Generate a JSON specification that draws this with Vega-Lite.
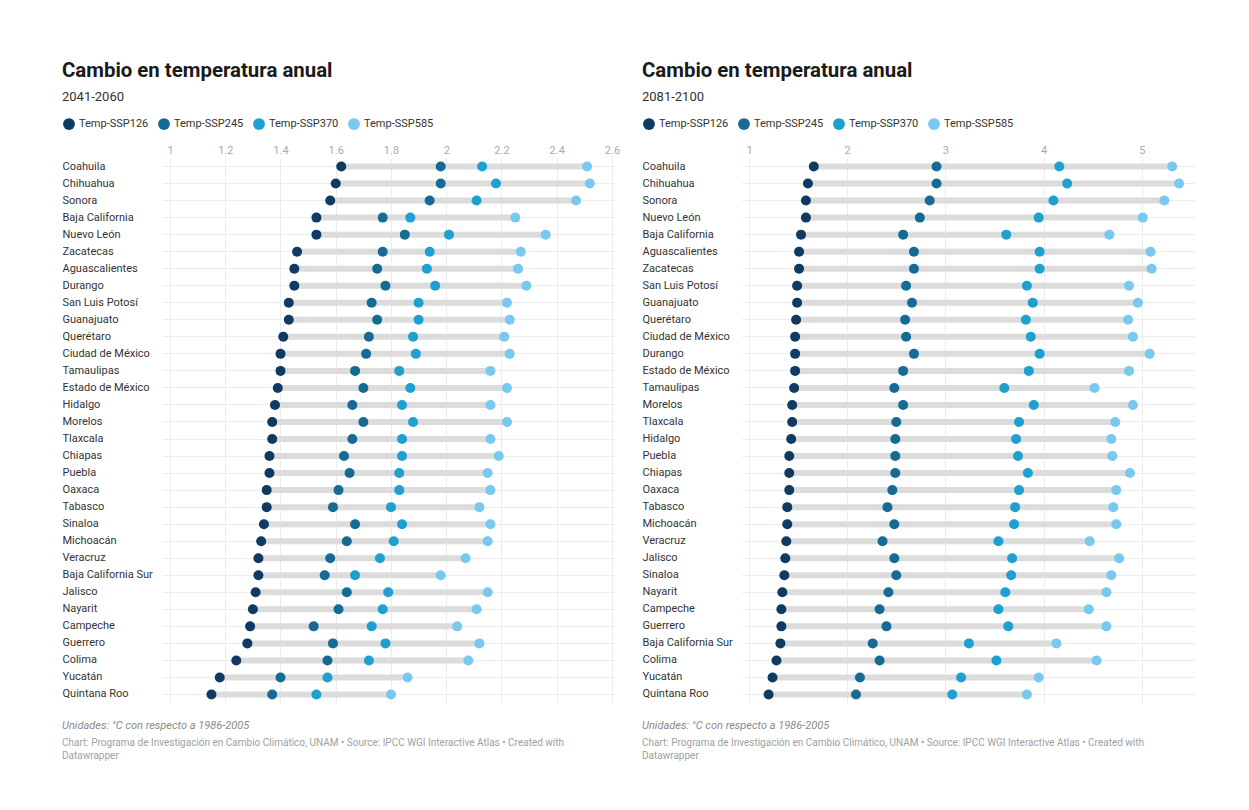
{
  "$schema": "https://vega.github.io/schema/vega-lite/v6.json",
  "background": "#ffffff",
  "padding": {"left": 62, "top": 60, "right": 0, "bottom": 0},
  "config": {
    "font": "Roboto",
    "view": {"stroke": null},
    "concat": {"spacing": 22}
  },
  "resolve": {"scale": {"color": "independent"}, "legend": {"color": "independent"}},
  "datasets": {
    "d1": [
      {"estado": "Coahuila", "Temp-SSP126": 1.62, "Temp-SSP245": 1.98, "Temp-SSP370": 2.13, "Temp-SSP585": 2.51},
      {"estado": "Chihuahua", "Temp-SSP126": 1.60, "Temp-SSP245": 1.98, "Temp-SSP370": 2.18, "Temp-SSP585": 2.52},
      {"estado": "Sonora", "Temp-SSP126": 1.58, "Temp-SSP245": 1.94, "Temp-SSP370": 2.11, "Temp-SSP585": 2.47},
      {"estado": "Baja California", "Temp-SSP126": 1.53, "Temp-SSP245": 1.77, "Temp-SSP370": 1.87, "Temp-SSP585": 2.25},
      {"estado": "Nuevo León", "Temp-SSP126": 1.53, "Temp-SSP245": 1.85, "Temp-SSP370": 2.01, "Temp-SSP585": 2.36},
      {"estado": "Zacatecas", "Temp-SSP126": 1.46, "Temp-SSP245": 1.77, "Temp-SSP370": 1.94, "Temp-SSP585": 2.27},
      {"estado": "Aguascalientes", "Temp-SSP126": 1.45, "Temp-SSP245": 1.75, "Temp-SSP370": 1.93, "Temp-SSP585": 2.26},
      {"estado": "Durango", "Temp-SSP126": 1.45, "Temp-SSP245": 1.78, "Temp-SSP370": 1.96, "Temp-SSP585": 2.29},
      {"estado": "San Luis Potosí", "Temp-SSP126": 1.43, "Temp-SSP245": 1.73, "Temp-SSP370": 1.90, "Temp-SSP585": 2.22},
      {"estado": "Guanajuato", "Temp-SSP126": 1.43, "Temp-SSP245": 1.75, "Temp-SSP370": 1.90, "Temp-SSP585": 2.23},
      {"estado": "Querétaro", "Temp-SSP126": 1.41, "Temp-SSP245": 1.72, "Temp-SSP370": 1.88, "Temp-SSP585": 2.21},
      {"estado": "Ciudad de México", "Temp-SSP126": 1.40, "Temp-SSP245": 1.71, "Temp-SSP370": 1.89, "Temp-SSP585": 2.23},
      {"estado": "Tamaulipas", "Temp-SSP126": 1.40, "Temp-SSP245": 1.67, "Temp-SSP370": 1.83, "Temp-SSP585": 2.16},
      {"estado": "Estado de México", "Temp-SSP126": 1.39, "Temp-SSP245": 1.70, "Temp-SSP370": 1.87, "Temp-SSP585": 2.22},
      {"estado": "Hidalgo", "Temp-SSP126": 1.38, "Temp-SSP245": 1.66, "Temp-SSP370": 1.84, "Temp-SSP585": 2.16},
      {"estado": "Morelos", "Temp-SSP126": 1.37, "Temp-SSP245": 1.70, "Temp-SSP370": 1.88, "Temp-SSP585": 2.22},
      {"estado": "Tlaxcala", "Temp-SSP126": 1.37, "Temp-SSP245": 1.66, "Temp-SSP370": 1.84, "Temp-SSP585": 2.16},
      {"estado": "Chiapas", "Temp-SSP126": 1.36, "Temp-SSP245": 1.63, "Temp-SSP370": 1.84, "Temp-SSP585": 2.19},
      {"estado": "Puebla", "Temp-SSP126": 1.36, "Temp-SSP245": 1.65, "Temp-SSP370": 1.83, "Temp-SSP585": 2.15},
      {"estado": "Oaxaca", "Temp-SSP126": 1.35, "Temp-SSP245": 1.61, "Temp-SSP370": 1.83, "Temp-SSP585": 2.16},
      {"estado": "Tabasco", "Temp-SSP126": 1.35, "Temp-SSP245": 1.59, "Temp-SSP370": 1.80, "Temp-SSP585": 2.12},
      {"estado": "Sinaloa", "Temp-SSP126": 1.34, "Temp-SSP245": 1.67, "Temp-SSP370": 1.84, "Temp-SSP585": 2.16},
      {"estado": "Michoacán", "Temp-SSP126": 1.33, "Temp-SSP245": 1.64, "Temp-SSP370": 1.81, "Temp-SSP585": 2.15},
      {"estado": "Veracruz", "Temp-SSP126": 1.32, "Temp-SSP245": 1.58, "Temp-SSP370": 1.76, "Temp-SSP585": 2.07},
      {"estado": "Baja California Sur", "Temp-SSP126": 1.32, "Temp-SSP245": 1.56, "Temp-SSP370": 1.67, "Temp-SSP585": 1.98},
      {"estado": "Jalisco", "Temp-SSP126": 1.31, "Temp-SSP245": 1.64, "Temp-SSP370": 1.79, "Temp-SSP585": 2.15},
      {"estado": "Nayarit", "Temp-SSP126": 1.30, "Temp-SSP245": 1.61, "Temp-SSP370": 1.77, "Temp-SSP585": 2.11},
      {"estado": "Campeche", "Temp-SSP126": 1.29, "Temp-SSP245": 1.52, "Temp-SSP370": 1.73, "Temp-SSP585": 2.04},
      {"estado": "Guerrero", "Temp-SSP126": 1.28, "Temp-SSP245": 1.59, "Temp-SSP370": 1.78, "Temp-SSP585": 2.12},
      {"estado": "Colima", "Temp-SSP126": 1.24, "Temp-SSP245": 1.57, "Temp-SSP370": 1.72, "Temp-SSP585": 2.08},
      {"estado": "Yucatán", "Temp-SSP126": 1.18, "Temp-SSP245": 1.40, "Temp-SSP370": 1.57, "Temp-SSP585": 1.86},
      {"estado": "Quintana Roo", "Temp-SSP126": 1.15, "Temp-SSP245": 1.37, "Temp-SSP370": 1.53, "Temp-SSP585": 1.80}
    ],
    "d2": [
      {"estado": "Coahuila", "Temp-SSP126": 1.66, "Temp-SSP245": 2.91, "Temp-SSP370": 4.16, "Temp-SSP585": 5.31},
      {"estado": "Chihuahua", "Temp-SSP126": 1.60, "Temp-SSP245": 2.91, "Temp-SSP370": 4.24, "Temp-SSP585": 5.38},
      {"estado": "Sonora", "Temp-SSP126": 1.58, "Temp-SSP245": 2.84, "Temp-SSP370": 4.10, "Temp-SSP585": 5.23},
      {"estado": "Nuevo León", "Temp-SSP126": 1.58, "Temp-SSP245": 2.74, "Temp-SSP370": 3.95, "Temp-SSP585": 5.01},
      {"estado": "Baja California", "Temp-SSP126": 1.53, "Temp-SSP245": 2.57, "Temp-SSP370": 3.62, "Temp-SSP585": 4.67},
      {"estado": "Aguascalientes", "Temp-SSP126": 1.51, "Temp-SSP245": 2.68, "Temp-SSP370": 3.96, "Temp-SSP585": 5.09},
      {"estado": "Zacatecas", "Temp-SSP126": 1.51, "Temp-SSP245": 2.68, "Temp-SSP370": 3.96, "Temp-SSP585": 5.10},
      {"estado": "San Luis Potosí", "Temp-SSP126": 1.49, "Temp-SSP245": 2.60, "Temp-SSP370": 3.83, "Temp-SSP585": 4.87},
      {"estado": "Guanajuato", "Temp-SSP126": 1.49, "Temp-SSP245": 2.66, "Temp-SSP370": 3.89, "Temp-SSP585": 4.96},
      {"estado": "Querétaro", "Temp-SSP126": 1.48, "Temp-SSP245": 2.59, "Temp-SSP370": 3.82, "Temp-SSP585": 4.86},
      {"estado": "Ciudad de México", "Temp-SSP126": 1.47, "Temp-SSP245": 2.60, "Temp-SSP370": 3.87, "Temp-SSP585": 4.91},
      {"estado": "Durango", "Temp-SSP126": 1.47, "Temp-SSP245": 2.68, "Temp-SSP370": 3.96, "Temp-SSP585": 5.08},
      {"estado": "Estado de México", "Temp-SSP126": 1.47, "Temp-SSP245": 2.57, "Temp-SSP370": 3.85, "Temp-SSP585": 4.87},
      {"estado": "Tamaulipas", "Temp-SSP126": 1.46, "Temp-SSP245": 2.48, "Temp-SSP370": 3.60, "Temp-SSP585": 4.52},
      {"estado": "Morelos", "Temp-SSP126": 1.44, "Temp-SSP245": 2.57, "Temp-SSP370": 3.90, "Temp-SSP585": 4.91},
      {"estado": "Tlaxcala", "Temp-SSP126": 1.44, "Temp-SSP245": 2.50, "Temp-SSP370": 3.75, "Temp-SSP585": 4.73},
      {"estado": "Hidalgo", "Temp-SSP126": 1.43, "Temp-SSP245": 2.49, "Temp-SSP370": 3.72, "Temp-SSP585": 4.69},
      {"estado": "Puebla", "Temp-SSP126": 1.41, "Temp-SSP245": 2.49, "Temp-SSP370": 3.74, "Temp-SSP585": 4.70},
      {"estado": "Chiapas", "Temp-SSP126": 1.41, "Temp-SSP245": 2.49, "Temp-SSP370": 3.84, "Temp-SSP585": 4.88},
      {"estado": "Oaxaca", "Temp-SSP126": 1.41, "Temp-SSP245": 2.46, "Temp-SSP370": 3.75, "Temp-SSP585": 4.74},
      {"estado": "Tabasco", "Temp-SSP126": 1.39, "Temp-SSP245": 2.41, "Temp-SSP370": 3.71, "Temp-SSP585": 4.71},
      {"estado": "Michoacán", "Temp-SSP126": 1.39, "Temp-SSP245": 2.48, "Temp-SSP370": 3.70, "Temp-SSP585": 4.74},
      {"estado": "Veracruz", "Temp-SSP126": 1.38, "Temp-SSP245": 2.36, "Temp-SSP370": 3.54, "Temp-SSP585": 4.47},
      {"estado": "Jalisco", "Temp-SSP126": 1.37, "Temp-SSP245": 2.48, "Temp-SSP370": 3.68, "Temp-SSP585": 4.77},
      {"estado": "Sinaloa", "Temp-SSP126": 1.36, "Temp-SSP245": 2.50, "Temp-SSP370": 3.67, "Temp-SSP585": 4.69},
      {"estado": "Nayarit", "Temp-SSP126": 1.34, "Temp-SSP245": 2.42, "Temp-SSP370": 3.61, "Temp-SSP585": 4.64},
      {"estado": "Campeche", "Temp-SSP126": 1.33, "Temp-SSP245": 2.33, "Temp-SSP370": 3.54, "Temp-SSP585": 4.46},
      {"estado": "Guerrero", "Temp-SSP126": 1.33, "Temp-SSP245": 2.40, "Temp-SSP370": 3.64, "Temp-SSP585": 4.64},
      {"estado": "Baja California Sur", "Temp-SSP126": 1.32, "Temp-SSP245": 2.26, "Temp-SSP370": 3.24, "Temp-SSP585": 4.13},
      {"estado": "Colima", "Temp-SSP126": 1.28, "Temp-SSP245": 2.33, "Temp-SSP370": 3.52, "Temp-SSP585": 4.54},
      {"estado": "Yucatán", "Temp-SSP126": 1.24, "Temp-SSP245": 2.13, "Temp-SSP370": 3.16, "Temp-SSP585": 3.95},
      {"estado": "Quintana Roo", "Temp-SSP126": 1.20, "Temp-SSP245": 2.09, "Temp-SSP370": 3.07, "Temp-SSP585": 3.83}
    ]
  },
  "hconcat": [
    {
      "resolve": {"scale": {"color": "independent"}, "legend": {"color": "independent"}},
      "title": {
        "text": "Unidades: °C con respecto a 1986-2005",
        "subtitle": ["Chart: Programa de Investigación en Cambio Climático, UNAM • Source: IPCC WGI Interactive Atlas • Created with", "Datawrapper"],
        "orient": "bottom", "anchor": "start", "frame": "bounds",
        "fontSize": 11, "fontStyle": "italic", "fontWeight": "normal", "color": "#8a8a8a",
        "subtitleFontSize": 10, "subtitleColor": "#a0a0a0", "subtitleFontStyle": "normal", "subtitleLineHeight": 13, "subtitlePadding": 7,
        "offset": 17
      },
      "vconcat": [
        {
          "title": {
            "text": "Cambio en temperatura anual", "subtitle": "2041-2060",
            "anchor": "start", "frame": "bounds",
            "fontSize": 20.4, "fontWeight": "bold", "color": "#1a1a1a",
            "subtitleFontSize": 13, "subtitleColor": "#333333", "subtitlePadding": 10, "offset": 13
          },
          "width": 453, "height": 545,
          "data": {"name": "d1"},
          "encoding": {
            "y": {
              "field": "estado", "type": "nominal",
              "sort": ["Coahuila", "Chihuahua", "Sonora", "Baja California", "Nuevo León", "Zacatecas", "Aguascalientes", "Durango", "San Luis Potosí", "Guanajuato", "Querétaro", "Ciudad de México", "Tamaulipas", "Estado de México", "Hidalgo", "Morelos", "Tlaxcala", "Chiapas", "Puebla", "Oaxaca", "Tabasco", "Sinaloa", "Michoacán", "Veracruz", "Baja California Sur", "Jalisco", "Nayarit", "Campeche", "Guerrero", "Colima", "Yucatán", "Quintana Roo"],
              "scale": {"paddingInner": 0, "paddingOuter": 0},
              "axis": {"title": null, "orient": "left", "labelAlign": "left", "labelPadding": 100, "ticks": false, "domain": false, "grid": true, "bandPosition": 0.5, "gridColor": "#ececec", "labelFontSize": 11, "labelColor": "#333333"}
            }
          },
          "layer": [
            {
              "mark": {"type": "rule", "strokeWidth": 6, "color": "#dcdcdc"},
              "encoding": {
                "x": {"field": "Temp-SSP126", "type": "quantitative",
                  "scale": {"domain": [0.971, 2.611], "nice": false, "zero": false},
                  "axis": {"title": null, "orient": "top", "values": [1, 1.2, 1.4, 1.6, 1.8, 2, 2.2, 2.4, 2.6], "format": "~g", "domain": false, "ticks": false, "labelPadding": 3, "labelFontSize": 11, "labelColor": "#aaaaaa", "gridColor": "#ececec"}},
                "x2": {"field": "Temp-SSP585"}
              }
            },
            {
              "transform": [{"fold": ["Temp-SSP126", "Temp-SSP245", "Temp-SSP370", "Temp-SSP585"], "as": ["escenario", "valor"]}],
              "mark": {"type": "circle", "size": 100, "opacity": 1},
              "encoding": {
                "x": {"field": "valor", "type": "quantitative"},
                "color": {"field": "escenario", "type": "nominal",
                  "scale": {"domain": ["Temp-SSP126", "Temp-SSP245", "Temp-SSP370", "Temp-SSP585"], "range": ["#0e3a63", "#166b96", "#1ea0d0", "#78c9ef"]},
                  "legend": {"title": null, "orient": "none", "legendX": -100, "legendY": -41, "direction": "horizontal", "symbolType": "circle", "symbolSize": 140, "symbolOpacity": 1, "labelFontSize": 11, "labelColor": "#333333", "columnPadding": 8, "labelOffset": 3}}
              }
            }
          ]
        }
      ]
    },
    {
      "resolve": {"scale": {"color": "independent"}, "legend": {"color": "independent"}},
      "title": {
        "text": "Unidades: °C con respecto a 1986-2005",
        "subtitle": ["Chart: Programa de Investigación en Cambio Climático, UNAM • Source: IPCC WGI Interactive Atlas • Created with", "Datawrapper"],
        "orient": "bottom", "anchor": "start", "frame": "bounds",
        "fontSize": 11, "fontStyle": "italic", "fontWeight": "normal", "color": "#8a8a8a",
        "subtitleFontSize": 10, "subtitleColor": "#a0a0a0", "subtitleFontStyle": "normal", "subtitleLineHeight": 13, "subtitlePadding": 7,
        "offset": 17
      },
      "vconcat": [
        {
          "title": {
            "text": "Cambio en temperatura anual", "subtitle": "2081-2100",
            "anchor": "start", "frame": "bounds",
            "fontSize": 20.4, "fontWeight": "bold", "color": "#1a1a1a",
            "subtitleFontSize": 13, "subtitleColor": "#333333", "subtitlePadding": 10, "offset": 13
          },
          "width": 453, "height": 545,
          "data": {"name": "d2"},
          "encoding": {
            "y": {
              "field": "estado", "type": "nominal",
              "sort": ["Coahuila", "Chihuahua", "Sonora", "Nuevo León", "Baja California", "Aguascalientes", "Zacatecas", "San Luis Potosí", "Guanajuato", "Querétaro", "Ciudad de México", "Durango", "Estado de México", "Tamaulipas", "Morelos", "Tlaxcala", "Hidalgo", "Puebla", "Chiapas", "Oaxaca", "Tabasco", "Michoacán", "Veracruz", "Jalisco", "Sinaloa", "Nayarit", "Campeche", "Guerrero", "Baja California Sur", "Colima", "Yucatán", "Quintana Roo"],
              "scale": {"paddingInner": 0, "paddingOuter": 0},
              "axis": {"title": null, "orient": "left", "labelAlign": "left", "labelPadding": 100, "ticks": false, "domain": false, "grid": true, "bandPosition": 0.5, "gridColor": "#ececec", "labelFontSize": 11, "labelColor": "#333333"}
            }
          },
          "layer": [
            {
              "mark": {"type": "rule", "strokeWidth": 6, "color": "#dcdcdc"},
              "encoding": {
                "x": {"field": "Temp-SSP126", "type": "quantitative",
                  "scale": {"domain": [0.929, 5.542], "nice": false, "zero": false},
                  "axis": {"title": null, "orient": "top", "values": [1, 2, 3, 4, 5], "format": "~g", "domain": false, "ticks": false, "labelPadding": 3, "labelFontSize": 11, "labelColor": "#aaaaaa", "gridColor": "#ececec"}},
                "x2": {"field": "Temp-SSP585"}
              }
            },
            {
              "transform": [{"fold": ["Temp-SSP126", "Temp-SSP245", "Temp-SSP370", "Temp-SSP585"], "as": ["escenario", "valor"]}],
              "mark": {"type": "circle", "size": 100, "opacity": 1},
              "encoding": {
                "x": {"field": "valor", "type": "quantitative"},
                "color": {"field": "escenario", "type": "nominal",
                  "scale": {"domain": ["Temp-SSP126", "Temp-SSP245", "Temp-SSP370", "Temp-SSP585"], "range": ["#0e3a63", "#166b96", "#1ea0d0", "#78c9ef"]},
                  "legend": {"title": null, "orient": "none", "legendX": -100, "legendY": -41, "direction": "horizontal", "symbolType": "circle", "symbolSize": 140, "symbolOpacity": 1, "labelFontSize": 11, "labelColor": "#333333", "columnPadding": 8, "labelOffset": 3}}
              }
            }
          ]
        }
      ]
    }
  ]
}
